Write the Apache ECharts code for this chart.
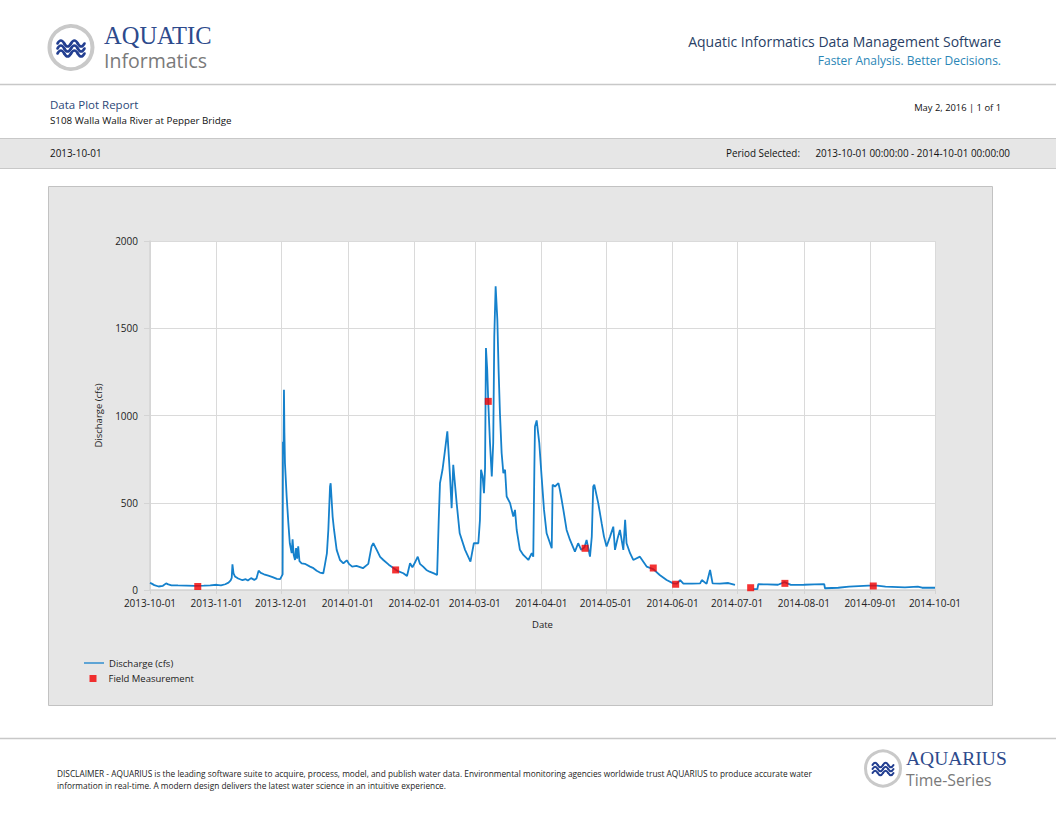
<!DOCTYPE html>
<html><head><meta charset="utf-8">
<script src="https://cdn.jsdelivr.net/npm/echarts@6/dist/echarts.min.js"></script>
<style>html,body{margin:0;padding:0;background:#fff}#c{width:1056px;height:816px}</style>
</head><body><div id="c"></div>
<script>
// ---- data ----
const flowTimes = [
'2013-10-01 00:00','2013-10-02 00:00','2013-10-03 00:00','2013-10-05 00:00','2013-10-07 00:00','2013-10-08 12:00','2013-10-09 12:00','2013-10-11 00:00','2013-10-14 00:00','2013-10-18 00:00','2013-10-22 00:00','2013-10-26 00:00','2013-10-29 00:00',
'2013-11-01 00:00','2013-11-03 00:00','2013-11-05 00:00','2013-11-06 12:00','2013-11-07 12:00','2013-11-08 00:00','2013-11-08 08:00','2013-11-08 20:00','2013-11-09 12:00','2013-11-11 00:00','2013-11-13 00:00','2013-11-14 12:00','2013-11-15 12:00','2013-11-17 00:00','2013-11-18 12:00','2013-11-19 12:00','2013-11-20 12:00','2013-11-21 12:00','2013-11-23 00:00','2013-11-25 00:00','2013-11-27 00:00','2013-11-29 00:00','2013-11-30 12:00',
'2013-12-01 06:00','2013-12-01 16:00','2013-12-01 20:00','2013-12-02 02:00','2013-12-02 07:00','2013-12-02 12:00','2013-12-02 18:00','2013-12-03 13:00','2013-12-04 08:00','2013-12-05 00:00','2013-12-05 21:00','2013-12-06 07:00','2013-12-06 20:00','2013-12-07 10:00','2013-12-07 22:00','2013-12-08 10:00','2013-12-08 22:00','2013-12-09 12:00','2013-12-10 12:00','2013-12-12 00:00','2013-12-14 10:00','2013-12-16 00:00','2013-12-17 12:00','2013-12-19 00:00','2013-12-20 14:00','2013-12-21 06:00','2013-12-22 06:00','2013-12-22 22:00','2013-12-23 17:00','2013-12-24 00:00','2013-12-24 22:00','2013-12-25 14:00','2013-12-26 19:00','2013-12-28 08:00','2013-12-29 22:00','2013-12-31 12:00',
'2014-01-01 12:00','2014-01-03 00:00','2014-01-05 00:00','2014-01-08 00:00','2014-01-10 12:00','2014-01-12 00:00','2014-01-12 20:00','2014-01-14 10:00','2014-01-16 00:00','2014-01-17 12:00','2014-01-20 00:00','2014-01-22 00:00','2014-01-24 00:00','2014-01-26 19:00','2014-01-28 12:00','2014-01-29 22:00','2014-01-31 00:00',
'2014-02-01 12:00','2014-02-02 12:00','2014-02-03 12:00','2014-02-05 00:00','2014-02-06 12:00','2014-02-08 00:00','2014-02-10 00:00','2014-02-11 12:00','2014-02-12 06:00','2014-02-12 20:00','2014-02-14 00:00','2014-02-15 00:00','2014-02-16 06:00','2014-02-17 12:00','2014-02-18 06:00','2014-02-19 00:00','2014-02-20 14:00','2014-02-22 00:00','2014-02-24 12:00','2014-02-27 00:00','2014-02-28 14:00',
'2014-03-02 16:00','2014-03-03 10:00','2014-03-03 22:00','2014-03-04 16:00','2014-03-05 07:00','2014-03-05 19:00','2014-03-06 05:00','2014-03-06 19:00','2014-03-07 07:00','2014-03-08 02:00','2014-03-08 22:00','2014-03-09 14:00','2014-03-10 02:00','2014-03-10 17:00','2014-03-11 12:00','2014-03-12 02:00','2014-03-12 17:00','2014-03-13 12:00','2014-03-14 07:00','2014-03-15 02:00','2014-03-15 20:00','2014-03-17 10:00','2014-03-18 22:00','2014-03-19 17:00','2014-03-20 12:00','2014-03-22 00:00','2014-03-23 14:00','2014-03-25 22:00','2014-03-27 12:00','2014-03-28 05:00','2014-03-28 17:00','2014-03-29 00:00','2014-03-29 19:00','2014-03-31 00:00',
'2014-04-01 02:00','2014-04-02 05:00','2014-04-03 10:00','2014-04-05 00:00','2014-04-05 19:00','2014-04-06 05:00','2014-04-07 07:00','2014-04-08 22:00','2014-04-09 14:00','2014-04-10 10:00','2014-04-11 05:00','2014-04-12 17:00','2014-04-14 07:00','2014-04-16 14:00','2014-04-18 02:00','2014-04-19 12:00','2014-04-21 00:00','2014-04-22 00:00','2014-04-23 14:00','2014-04-24 10:00','2014-04-25 02:00','2014-04-25 14:00','2014-04-27 10:00','2014-04-29 00:00','2014-04-30 02:00',
'2014-05-01 07:00','2014-05-02 22:00','2014-05-04 10:00','2014-05-05 05:00','2014-05-06 12:00','2014-05-07 12:00','2014-05-09 02:00','2014-05-09 22:00','2014-05-10 14:00','2014-05-12 05:00','2014-05-13 17:00','2014-05-16 19:00','2014-05-19 22:00','2014-05-23 00:00','2014-05-26 00:00','2014-05-29 05:00',
'2014-06-01 07:00','2014-06-03 00:00','2014-06-04 12:00','2014-06-06 00:00','2014-06-10 00:00','2014-06-13 19:00','2014-06-14 14:00','2014-06-16 19:00','2014-06-18 10:00','2014-06-19 14:00','2014-06-23 00:00','2014-06-26 22:00','2014-06-30 00:00',
'2014-07-04 00:00','2014-07-08 12:00','2014-07-10 10:00','2014-07-10 20:00','2014-07-15 00:00','2014-07-20 00:00','2014-07-23 00:00','2014-07-26 00:00',
'2014-08-01 00:00','2014-08-06 00:00','2014-08-10 12:00','2014-08-10 20:00','2014-08-17 00:00','2014-08-22 00:00','2014-08-31 00:00',
'2014-09-04 00:00','2014-09-08 00:00','2014-09-17 00:00','2014-09-23 00:00','2014-09-25 00:00','2014-10-01 00:00'
];
const flowValues = [
42,35,28,20,24,38,32,27,26,25,24,25,27,
30,26,33,42,55,70,147,95,78,66,56,62,54,68,58,66,111,98,90,82,74,64,62,
80,90,850,780,1148,900,727,536,383,268,211,290,200,172,240,180,250,165,153,150,134,125,110,100,96,140,210,344,593,612,421,344,230,172,153,170,
150,134,138,125,150,249,268,230,190,172,145,128,110,96,80,153,130,
165,191,150,134,115,105,95,86,402,612,689,785,909,650,469,718,498,325,230,163,268,
268,402,689,650,555,700,1387,1263,1072,842,650,842,1454,1741,1550,1263,1014,785,670,689,536,498,421,459,344,230,201,172,211,191,689,937,972,843,
650,459,325,268,239,603,593,612,574,517,459,344,287,220,268,230,245,287,191,306,593,603,498,383,306,
249,306,363,230,300,344,230,402,268,211,172,191,134,120,86,57,
38,36,57,37,36,38,57,35,115,38,36,40,29,
null,5,5,33,32,30,45,29,
30,32,33,10,13,19,25,
25,19,15,19,13,13
];
const fieldTimes = ['2013-10-23 05:00','2014-01-23 05:00','2014-03-07 07:00','2014-04-21 07:00','2014-05-23 00:00','2014-06-02 10:00','2014-07-07 07:00','2014-07-23 05:00','2014-09-02 07:00'];
const fieldValues = [20,115,1081,239,126,33,13,38,23];
const yAxisMin = 0, yAxisMax = 2000, yAxisStep = 500;
const xStart = '2013-10-01', xEnd = '2014-10-01';

const FONT = '"Open Sans", "Noto Sans", sans-serif';
const SERIF = '"Liberation Serif", "DejaVu Serif", serif';
const chart = echarts.init(document.getElementById('c'), null, {renderer: 'svg'});

function txt(x, y, s, size, color, align, family, lh) {
  const st = {text: s, fontSize: size, fontFamily: family || FONT,
    fill: color, textAlign: align || 'left', textVerticalAlign: 'middle'};
  if (lh) st.lineHeight = lh;
  return {type: 'text', x: x, y: y, z: 10, style: st};
}
function waves(cx, cy, w, amp, gap, lw) {
  const out = [];
  for (let k = -1; k <= 1; k++) {
    const y = cy + k * gap, x0 = cx - w / 2, q = w / 4;
    for (let j = 0; j < 4; j++) {
      const a = x0 + j * q;
      out.push({type: 'bezierCurve', z: 11,
        shape: {x1: a, y1: y, x2: a + q, y2: y, cpx1: a + q / 2, cpy1: y + (j % 2 ? amp : -amp) * 2},
        style: {stroke: '#233f91', lineWidth: lw, fill: null, lineCap: 'round'}});
    }
  }
  return out;
}

const graphics = [
  {type: 'rect', z: -10, shape: {x: 48.5, y: 186.5, width: 944, height: 519}, style: {fill: '#e6e6e6', stroke: '#c2c2c2', lineWidth: 1}},
  {type: 'circle', z: 10, shape: {cx: 71, cy: 47.5, r: 21.5}, style: {fill: '#fff', stroke: '#c9c9c9', lineWidth: 4}},
  txt(104, 35, 'AQUATIC', 24.5, '#2d4a8c', 'left', SERIF, 20),
  txt(104, 60.5, 'Informatics', 19.5, '#7a7a7a', 'left', null, 16),
  txt(1001, 41, 'Aquatic Informatics Data Management Software', 14, '#2a3f66', 'right'),
  txt(1001, 60, 'Faster Analysis. Better Decisions.', 12, '#2a86b6', 'right'),
  {type: 'line', z: 10, shape: {x1: 0, y1: 84.5, x2: 1056, y2: 84.5}, style: {stroke: '#c8c8c8', lineWidth: 1.5}},
  txt(50, 104.5, 'Data Plot Report', 11.5, '#2c4878', 'left'),
  txt(50, 120, 'S108 Walla Walla River at Pepper Bridge', 9.8, '#111', 'left'),
  txt(1001, 107.5, 'May 2, 2016 | 1 of 1', 9.4, '#111', 'right'),
  {type: 'rect', z: 9, shape: {x: -1, y: 138.5, width: 1058, height: 30}, style: {fill: '#e6e6e6', stroke: '#c8c8c8', lineWidth: 1}},
  txt(50, 153, '2013-10-01', 9.9, '#111', 'left'),
  txt(800, 153, 'Period Selected:', 9.9, '#111', 'right'),
  txt(1010, 153, '2013-10-01 00:00:00 - 2014-10-01 00:00:00', 9.9, '#111', 'right'),
  {type: 'line', z: 10, shape: {x1: 0, y1: 738.5, x2: 1056, y2: 738.5}, style: {stroke: '#c8c8c8', lineWidth: 1.5}},
  txt(57, 773.5, 'DISCLAIMER - AQUARIUS is the leading software suite to acquire, process, model, and publish water data. Environmental monitoring agencies worldwide trust AQUARIUS to produce accurate water', 8.3, '#222', 'left'),
  txt(57, 785.5, 'information in real-time. A modern design delivers the latest water science in an intuitive experience.', 8.3, '#222', 'left'),
  {type: 'circle', z: 10, shape: {cx: 883, cy: 768.5, r: 17.5}, style: {fill: '#fff', stroke: '#c9c9c9', lineWidth: 3}},
  txt(906, 758, 'AQUARIUS', 19.5, '#2d4a8c', 'left', SERIF, 16),
  txt(906, 779.5, 'Time-Series', 15.8, '#7a7a7a', 'left', null, 13)
].concat(waves(71, 48.5, 27, 3, 5, 2.6), waves(883, 769, 21, 2.3, 4, 2));

const flowData = flowTimes.map((t, i) => [t, flowValues[i] === null ? '-' : flowValues[i]]);
const fieldData = fieldTimes.map((t, i) => [t, fieldValues[i]]);

const option = {
  animation: false,
  backgroundColor: '#fff',
  textStyle: {fontFamily: FONT},
  graphic: {elements: graphics},
  grid: {left: 150, top: 241, width: 785, height: 349, show: true, backgroundColor: '#fff', borderWidth: 0},
  legend: [
    {data: [{name: 'Discharge (cfs)', icon: 'path://M0,0H20V1.3H0Z'}], left: 84, top: 658, padding: 0, orient: 'vertical',
      itemWidth: 20, itemHeight: 8, textStyle: {fontSize: 9.5, color: '#222', fontFamily: FONT}},
    {data: ['Field Measurement'], left: 89.5, top: 673.5, padding: 0, orient: 'vertical', icon: 'rect', itemWidth: 7, itemHeight: 7,
      textStyle: {fontSize: 9.5, color: '#222', fontFamily: FONT, padding: [0, 0, 0, 7]}}
  ],
  xAxis: {
    type: 'time', min: xStart, max: xEnd, splitNumber: 12,
    minInterval: 28 * 24 * 3600 * 1000, maxInterval: 31 * 24 * 3600 * 1000,
    name: 'Date', nameLocation: 'middle', nameGap: 29, nameTextStyle: {fontSize: 9.5, color: '#222'},
    axisLine: {show: true, lineStyle: {color: '#d4d4d4', width: 1.5}},
    axisTick: {show: true, length: 4, lineStyle: {color: '#d4d4d4'}},
    splitLine: {show: true, lineStyle: {color: '#dadada', width: 1}},
    axisLabel: {fontSize: 10, color: '#222', margin: 8, showMinLabel: true, showMaxLabel: true,
      hideOverlap: false,
      formatter: v => echarts.time.format(v, '{yyyy}-{MM}-{dd}', false)}
  },
  yAxis: {
    type: 'value', min: yAxisMin, max: yAxisMax, interval: yAxisStep,
    name: 'Discharge (cfs)', nameLocation: 'middle', nameGap: 47, nameRotate: 90,
    nameTextStyle: {fontSize: 9.5, color: '#222'},
    axisLine: {show: true, lineStyle: {color: '#d4d4d4', width: 1.5}},
    axisTick: {show: true, length: 6, lineStyle: {color: '#d4d4d4'}},
    splitLine: {show: true, lineStyle: {color: '#dadada', width: 1}},
    axisLabel: {fontSize: 10, color: '#222', margin: 12, formatter: v => String(v)}
  },
  series: [
    {name: 'Discharge (cfs)', type: 'line', data: flowData, showSymbol: false, symbol: 'none',
      lineStyle: {color: '#1581cc', width: 1.8}, itemStyle: {color: '#1581cc'}, connectNulls: false, z: 2},
    {name: 'Field Measurement', type: 'scatter', data: fieldData, symbol: 'rect', symbolSize: 7,
      itemStyle: {color: '#f20000'}, z: 3}
  ]
};
chart.setOption(option);
</script></body></html>
